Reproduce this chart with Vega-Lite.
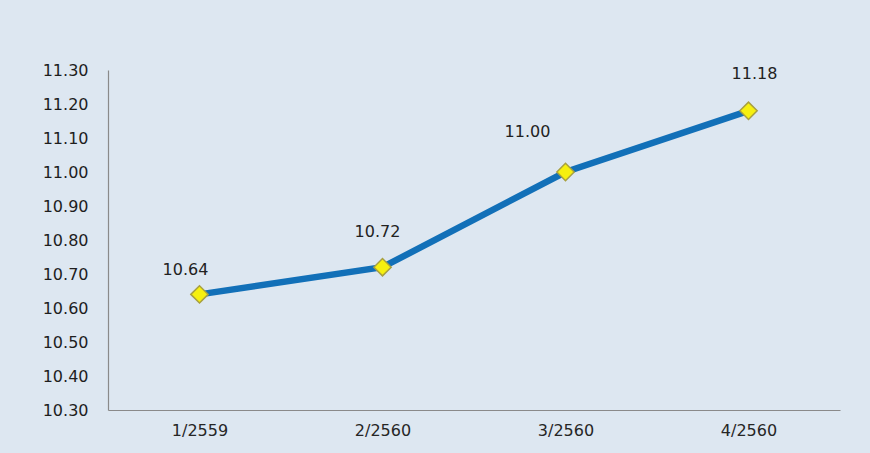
{
  "$schema": "https://vega.github.io/schema/vega-lite/v6.json",
  "width": 732,
  "height": 340,
  "autosize": {"type": "none"},
  "padding": {"left": 108, "top": 70, "right": 30, "bottom": 43},
  "background": "#dde7f1",
  "config": {"view": {"stroke": null}, "font": "DejaVu Sans"},
  "data": {"values": [
    {"q": "1/2559", "v": 10.64},
    {"q": "2/2560", "v": 10.72},
    {"q": "3/2560", "v": 11.00},
    {"q": "4/2560", "v": 11.18}
  ]},
  "encoding": {
    "x": {"field": "q", "type": "ordinal", "sort": null,
      "scale": {"type": "point", "padding": 0.5},
      "axis": {"title": null, "labelAngle": 0, "ticks": false, "labelPadding": 12, "labelFontSize": 16, "labelColor": "#262626", "domainColor": "#8a8a8a", "domainWidth": 1.2}},
    "y": {"field": "v", "type": "quantitative",
      "scale": {"domain": [10.3, 11.3], "nice": false, "zero": false},
      "axis": {"title": null, "values": [10.3, 10.4, 10.5, 10.6, 10.7, 10.8, 10.9, 11.0, 11.1, 11.2, 11.3], "format": ".2f", "grid": false, "ticks": false, "labelPadding": 20, "labelFontSize": 16, "labelColor": "#1e1e1e", "domainColor": "#8a8a8a", "domainWidth": 1.2}}
  },
  "layer": [
    {"mark": {"type": "line", "color": "#1270b8", "strokeWidth": 6.5}},
    {"mark": {"type": "point", "shape": "diamond", "filled": true, "fill": "#f6f010", "stroke": "#a8a040", "strokeWidth": 1.5, "size": 300, "opacity": 1}},
    {"transform": [{"filter": "datum.q == '1/2559'"}], "mark": {"type": "text", "dx": -14, "dy": -24, "fontSize": 16, "color": "#222"}, "encoding": {"text": {"field": "v", "format": ".2f"}}},
    {"transform": [{"filter": "datum.q == '2/2560'"}], "mark": {"type": "text", "dx": -5, "dy": -35, "fontSize": 16, "color": "#222"}, "encoding": {"text": {"field": "v", "format": ".2f"}}},
    {"transform": [{"filter": "datum.q == '3/2560'"}], "mark": {"type": "text", "dx": -38, "dy": -40, "fontSize": 16, "color": "#222"}, "encoding": {"text": {"field": "v", "format": ".2f"}}},
    {"transform": [{"filter": "datum.q == '4/2560'"}], "mark": {"type": "text", "dx": 6, "dy": -37, "fontSize": 16, "color": "#222"}, "encoding": {"text": {"field": "v", "format": ".2f"}}}
  ]
}
